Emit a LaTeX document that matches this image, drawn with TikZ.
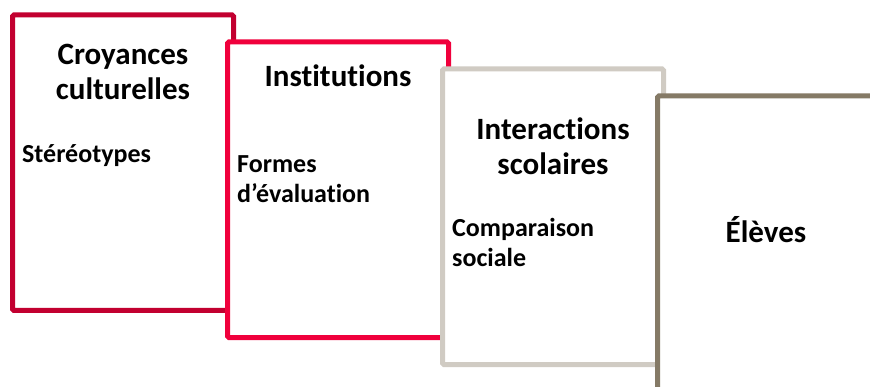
\documentclass[tikz,border=0pt]{standalone}
\usepackage{fontspec}
\setmainfont{Carlito}[Ligatures=NoCommon]
\usetikzlibrary{positioning}

\definecolor{darkred}{RGB}{194,0,48}
\definecolor{brightred}{RGB}{240,0,60}
\definecolor{stone}{RGB}{208,203,195}
\definecolor{taupe}{RGB}{133,122,102}

\begin{document}
\begin{tikzpicture}[x=1pt,y=-1pt,
		panel/.style={draw=#1,line width=5pt,fill=white,rounded corners=1.5pt,
			minimum width=221pt,minimum height=295.5pt,outer sep=0pt,inner sep=0pt,anchor=north west},
		title/.style={font=\bfseries\fontsize{31}{35}\selectfont,align=center,anchor=base,inner sep=0pt},
		item/.style={font=\bfseries\fontsize{26}{30}\selectfont,align=left,anchor=base west,inner sep=0pt}]
		\useasboundingbox (0,0) rectangle (870,387);
		
		% panels, each one lying over the previous one
		\node[panel=darkred]   (croy)  at (12.5,15) {};
		\node[panel=brightred] (inst)  at (227.5,42) {};
		\node[panel=stone]     (inter) at (442.5,69) {};
		\node[panel=taupe]     (eleve) at (657.5,96) {};
		
		% headings (base = last line)
		\node[title] (croyT)  at (123,100) {Croyances\\culturelles};
		\node[title] (instT)  at (338,87)  {Institutions};
		\node[title] (interT) at (553,175) {Interactions\\scolaires};
		\node[title] (eleveT) at (766,243) {Élèves};
		
		% examples inside the panels
		\node[item] (stereo) at (22,163)  {Stéréotypes};
		\node[item] (eval)   at (237,203) {Formes\\d’évaluation};
		\node[item] (comp)   at (452,267) {Comparaison\\sociale};
	\end{tikzpicture}
\end{document}
